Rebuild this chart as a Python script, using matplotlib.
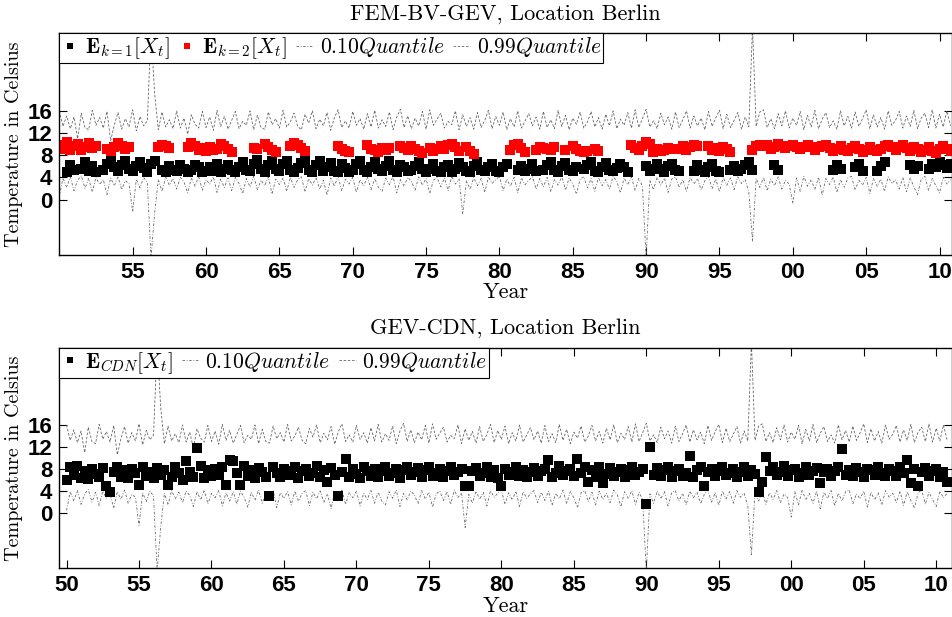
import numpy as np
import matplotlib
matplotlib.use("Agg")
import matplotlib.pyplot as plt

nan = np.nan

# quarterly time grid, 1950.00 ... 2010.75
years = 1950 + np.arange(244) / 4.0

# 0.99 quantile (same in both panels)
q99 = [
    16.0, 13.2, 15.1, 12.8, 14.9, 11.0, 15.6, 13.0,
    12.6, 16.1, 13.4, 14.8, 12.9, 15.9, 10.6, 13.5,
    15.7, 12.7, 14.6, 13.1, 16.2, 12.4, 15.0, 13.3,
    14.2, 30.5, 19.0, 12.6, 15.8, 13.1, 14.4, 12.8,
    16.0, 12.9, 14.7, 11.8, 15.3, 13.6, 12.9, 15.9,
    13.0, 14.9, 12.5, 16.1, 13.2, 15.0, 12.7, 14.3,
    15.9, 12.8, 14.1, 13.4, 16.0, 12.6, 15.2, 13.0,
    12.7, 15.8, 13.5, 14.6, 12.9, 16.1, 13.1, 14.0,
    15.6, 13.2, 12.6, 15.4, 13.8, 16.0, 12.8, 14.5,
    13.3, 15.7, 12.5, 14.8, 16.2, 13.0, 14.2, 12.9,
    15.9, 13.4, 14.6, 12.7, 15.5, 13.1, 16.1, 12.9,
    14.4, 13.2, 15.8, 12.6, 14.9, 16.3, 13.0, 15.1,
    12.8, 14.7, 13.3, 15.9, 12.7, 16.2, 13.4, 14.5,
    15.6, 12.9, 14.1, 13.5, 16.0, 12.6, 15.3, 13.2,
    14.8, 12.7, 15.7, 13.0, 14.3, 16.1, 12.8, 15.0,
    13.4, 15.8, 12.6, 14.6, 13.1, 16.0, 12.9, 14.2,
    15.5, 13.3, 14.9, 12.7, 15.9, 13.0, 14.4, 12.8,
    16.1, 13.2, 15.2, 12.6, 14.7, 13.6, 15.8, 12.9,
    14.0, 15.9, 13.1, 14.8, 12.7, 15.4, 13.3, 16.0,
    12.8, 14.5, 13.4, 15.7, 12.9, 16.2, 13.0, 14.6,
    16.3, 13.1, 14.2, 12.8, 15.6, 13.5, 14.9, 12.7,
    15.8, 13.0, 14.4, 16.0, 12.9, 15.1, 13.3, 14.7,
    12.6, 15.9, 13.2, 14.8, 16.1, 12.8, 15.4, 13.0,
    14.3, 15.7, 12.7, 14.9, 13.1, 31.0, 13.2, 15.8,
    16.2, 13.0, 14.6, 12.8, 15.5, 13.3, 16.0, 12.9,
    14.7, 13.4, 15.9, 12.6, 15.2, 13.1, 16.1, 12.8,
    14.5, 15.7, 13.0, 14.2, 12.7, 16.0, 13.3, 15.0,
    12.9, 15.8, 13.2, 14.6, 16.2, 12.8, 15.3, 13.1,
    14.8, 12.7, 16.0, 13.4, 14.3, 15.9, 12.9, 15.1,
    13.2, 16.1, 12.8, 14.7, 15.6, 13.0, 16.2, 12.9,
    15.4, 13.1, 16.0, 13.3,
]

# 0.10 quantile (same in both panels)
q10 = [
    0.5, 3.9, 2.2, 4.1, 1.6, 3.5, 4.3, 2.0,
    3.8, 1.4, 4.0, 2.7, 3.6, 0.9, 3.9, 2.5,
    4.2, 1.8, 3.4, 2.9, -2.2, 3.7, 2.1, 4.0,
    3.1, -10.5, -2.4, 3.6, 1.5, 4.1, 2.6, 3.8,
    1.9, 4.0, 3.2, 1.2, 3.9, 2.4, 4.2, 1.7,
    3.6, 2.8, 4.1, 1.3, 3.7, 2.2, 3.9, 1.6,
    4.0, 2.9, 1.1, 3.8, 2.3, 4.2, 1.8, 3.5,
    2.5, 4.1, 1.0, 3.7, 2.7, 3.9, 1.5, 4.0,
    2.2, 3.6, 4.1, 1.4, 3.8, 2.6, 4.0, 1.9,
    3.5, 0.8, 3.9, 2.4, 4.2, 1.6, 3.7, 2.8,
    4.0, 1.3, 3.6, 2.5, 4.1, 1.8, 3.8, 2.2,
    1.5, 3.9, 2.7, 4.2, 1.2, 3.6, 2.4, 4.0,
    3.3, 1.7, 4.1, 2.6, 3.8, 1.1, 3.5, 4.0,
    2.3, 3.9, 1.6, 4.2, 2.8, 3.7, -2.6, 3.4,
    1.8, 4.0, 2.5, 3.8, 1.3, 4.1, 2.9, 3.6,
    4.2, 1.6, 3.7, 2.4, 4.0, 1.2, 3.9, 2.7,
    3.5, 4.1, 1.9, 3.8, 2.3, 4.0, 1.4, 3.6,
    2.6, 4.2, 1.7, 3.9, 2.8, 1.0, 3.7, 4.1,
    2.1, 3.8, 1.5, 4.0, 2.5, 3.6, 1.9, 4.2,
    3.3, 1.2, 3.9, 2.7, 4.1, 1.6, 3.8, 2.4,
    -10.5, 3.5, 1.8, 4.0, 2.6, 3.9, 1.3, 3.7,
    4.1, 2.2, 3.6, 1.5, 4.0, 2.8, 3.8, 1.7,
    3.4, 4.2, 2.0, 3.7, 1.4, 4.0, 2.6, 3.9,
    1.8, 4.1, 2.9, 3.6, 1.3, -7.5, 3.8, 2.2,
    4.0, 1.6, 3.7, 2.5, 4.1, 1.9, 3.5, 2.8,
    -0.7, 3.9, 1.5, 4.2, 2.4, 3.6, 1.8, 4.0,
    0.8, 3.8, 2.7, 4.1, 1.3, 3.6, 2.2, 3.9,
    4.2, 1.7, 3.5, 2.6, 4.0, 1.1, 3.8, 2.4,
    3.7, 1.5, 4.1, 2.9, 3.6, 1.9, 4.0, 1.4,
    3.9, 2.3, 0.9, 3.7, 4.2, 1.6, 3.8, 2.5,
    1.2, 4.0, 2.8, 3.6,
]

# FEM-BV-GEV: expected value in state k=1 (nan when the state is not active)
fem_k1 = [
    nan, nan, 5.0, 6.2, 5.3, nan, 5.6, 6.8,
    5.2, 6.0, 5.0, nan, 5.4, 6.5, 7.1, 5.8,
    5.1, 6.3, 7.0, 5.5, 5.2, 6.1, 6.8, 5.7,
    5.0, 6.4, 7.0, nan, 5.3, 5.0, 6.0, 5.4,
    5.1, 6.2, 5.6, 5.0, 5.4, 6.3, 5.8, 4.9,
    5.2, 5.9, 5.1, 6.4, 5.0, 5.6, 6.2, 5.3,
    4.9, 5.8, 6.7, 5.4, 5.1, 6.5, 7.1, 5.6,
    5.0, 6.2, 7.0, 5.5, 5.2, 6.4, 6.9, 5.3,
    5.0, 5.7, 6.6, 7.0, 5.4, 5.0, 6.3, 6.9,
    5.2, 5.8, 6.6, 5.1, 4.9, 6.4, 5.7, 5.0,
    5.3, 6.5, 6.9, 5.4, 5.0, 5.9, 6.8, 5.5,
    5.1, 6.0, 6.9, 5.3, 5.0, 6.3, 5.8, 5.1,
    5.4, 6.1, 6.8, 5.6, 5.0, 5.6, 6.4, 5.2,
    4.9, 5.8, 6.2, 5.0, 5.5, 6.6, 5.9, 5.2,
    5.0, 6.1, 6.7, 5.3, 5.1, 5.9, 6.5, 5.2,
    5.0, 5.8, 6.4, nan, nan, 5.3, 6.0, 5.1,
    5.6, 6.5, 5.2, nan, 5.4, 6.3, 6.8, 5.3,
    5.0, 6.1, 6.6, 5.4, 5.1, 5.8, nan, 5.6,
    6.2, 6.8, 5.2, 5.0, 5.9, 6.6, 5.3, 5.1,
    5.7, 6.5, 5.9, 5.0, nan, nan, nan, nan,
    6.0, 5.2, 5.5, 6.4, 5.6, 5.0, 6.1, 6.5,
    5.4, 5.1, nan, nan, nan, 5.1, 6.2, 5.3,
    4.9, 5.8, 6.4, 5.2, 5.0, nan, nan, 5.3,
    6.0, 5.1, 5.5, 6.3, 6.8, 5.4, nan, nan,
    nan, nan, nan, 6.2, 5.3, nan, nan, nan,
    nan, nan, nan, nan, nan, nan, nan, nan,
    nan, nan, nan, 5.3, 6.2, 5.6, nan, nan,
    nan, 5.8, 6.4, 5.2, nan, nan, nan, 5.2,
    6.0, 6.7, nan, nan, nan, nan, nan, nan,
    6.3, 5.6, 6.0, nan, nan, 5.6, 6.4, 5.9,
    6.8, 6.2, 5.7, 6.5,
]

# FEM-BV-GEV: expected value in state k=2
fem_k2 = [
    9.8, 9.2, 10.3, 8.9, 9.6, 10.1, 9.0, 9.4,
    10.2, 9.3, 9.7, nan, nan, 9.2, 8.8, 9.5,
    10.2, 9.6, 9.1, 9.4, nan, nan, nan, nan,
    nan, nan, nan, 9.4, 9.9, 9.7, 9.3, nan,
    nan, nan, nan, 9.4, 10.2, 9.6, 8.9, 9.3,
    8.7, 9.5, 8.9, 9.2, 10.0, 9.6, 9.1, 8.5,
    nan, nan, nan, nan, nan, 9.3, 9.2, nan,
    10.0, 9.4, 8.9, 8.6, nan, nan, nan, 9.6,
    10.2, 9.8, 9.3, 8.8, nan, nan, nan, nan,
    nan, nan, nan, nan, 9.6, 9.2, 8.8, 8.5,
    nan, nan, nan, nan, 9.8, 9.2, 8.9, 8.6,
    9.3, 9.0, 9.3, nan, nan, 9.7, 9.3, 8.9,
    9.6, 9.1, 8.7, 8.4, nan, 9.3, 8.8, 9.1,
    9.6, 9.2, 9.8, 10.1, 9.4, 8.7, nan, 9.5,
    8.8, 8.3, nan, nan, nan, nan, nan, nan,
    nan, nan, nan, 9.0, 9.8, 10.0, 9.3, 8.6,
    nan, nan, 9.0, 9.4, 9.3, 9.1, 8.9, 9.4,
    nan, nan, 9.0, nan, 9.6, 9.2, 8.8, 8.5,
    8.7, nan, 9.2, 8.7, nan, nan, nan, nan,
    nan, nan, nan, nan, 9.9, 9.3, 9.0, 9.6,
    10.3, 10.0, 8.6, 9.2, 8.8, 9.0, 9.3, 9.1,
    nan, 9.1, 9.6, 9.0, 9.4, 9.9, 9.7, nan,
    nan, 9.6, 9.0, 9.3, 8.7, 9.5, 9.2, 8.5,
    nan, nan, nan, nan, nan, 9.0, 9.6, 9.9,
    9.6, 9.8, 9.2, 9.5, 10.0, 9.7, 9.3, 9.6,
    9.9, 9.4, 9.1, 9.5, 9.8, 9.4, 9.0, 9.4,
    9.7, 9.9, 9.3, 8.8, 9.2, 9.6, 9.0, 8.7,
    9.3, 9.7, 9.2, 8.6, 8.9, 9.4, 9.0, 8.7,
    9.1, 9.6, 9.9, 9.4, 8.9, 9.5, 9.8, 9.3,
    8.7, 9.4, 9.1, 8.6, 9.0, 9.5, 8.8, 8.4,
    9.1, 9.6, 9.2, 8.8,
]

# GEV-CDN expected value
cdn = [
    6.0, 8.3, 7.0, 8.5, 6.4, 7.6, 6.2, 8.0,
    7.1, 6.5, 8.2, 5.0, 3.9, 7.4, 8.4, 6.6,
    7.8, 6.3, 8.1, 7.2, 5.1, 8.3, 6.8, 7.5,
    6.4, 8.2, 7.0, 7.9, 5.1, 6.6, 8.4, 7.3,
    6.1, 9.5, 7.4, 6.5, 11.8, 8.6, 6.4, 7.8,
    6.7, 8.1, 7.0, 8.4, 5.1, 9.6, 9.4, 7.3,
    5.1, 8.6, 6.8, 7.9, 6.3, 8.2, 7.5, 6.6,
    3.1, 8.3, 7.2, 6.5, 8.0, 6.9, 7.7, 8.4,
    6.4, 7.6, 8.1, 6.7, 7.3, 8.5, 6.5, 7.9,
    5.7, 8.2, 6.9, 3.1, 7.4, 9.8, 6.6, 8.0,
    7.1, 6.4, 8.3, 7.6, 6.8, 8.1, 6.5, 7.7,
    8.4, 6.7, 7.3, 8.0, 6.4, 7.8, 8.3, 6.9,
    7.5, 8.2, 6.6, 7.9, 8.4, 6.8, 7.2, 8.1,
    6.5, 7.7, 8.3, 6.9, 7.4, 8.0, 5.0, 5.0,
    7.6, 8.2, 6.7, 7.3, 8.4, 6.6, 7.9, 6.4,
    5.0, 8.1, 6.9, 7.5, 8.3, 6.7, 7.8, 6.5,
    7.4, 8.2, 6.8, 7.7, 8.0, 9.6, 6.6, 7.3,
    8.5, 6.9, 7.6, 8.1, 6.7, 9.8, 7.2, 8.3,
    5.7, 7.8, 6.5, 8.4, 5.4, 7.1, 8.2, 6.8,
    7.5, 8.0, 6.6, 7.9, 8.3, 6.9, 7.4, 8.1,
    1.7, 12.0, 7.0, 8.2, 6.7, 7.8, 8.4, 6.5,
    7.6, 8.0, 6.8, 7.3, 10.4, 6.6, 7.9, 8.3,
    4.9, 7.4, 8.1, 6.7, 7.7, 8.4, 6.9, 7.2,
    8.0, 6.6, 7.5, 8.3, 6.8, 7.9, 7.1, 3.8,
    5.7, 10.1, 7.6, 8.3, 6.9, 7.4, 8.5, 6.7,
    7.8, 8.1, 6.6, 7.3, 8.4, 6.9, 7.7, 8.2,
    5.5, 7.5, 8.0, 6.8, 7.6, 8.3, 11.7, 7.0,
    7.9, 6.7, 8.2, 7.4, 6.6, 8.1, 7.8, 6.9,
    8.3, 7.2, 6.7, 8.0, 7.6, 6.8, 8.4, 7.3,
    9.6, 5.5, 8.1, 4.9, 7.5, 8.2, 6.8, 7.7,
    8.0, 6.6, 7.4, 5.7,
]

y_ticks = [0, 4, 8, 12, 16]
top_xticks = [1955, 1960, 1965, 1970, 1975, 1980, 1985, 1990, 1995, 2000, 2005, 2010]
top_xlabels = ['55', '60', '65', '70', '75', '80', '85', '90', '95', '00', '05', '10']
bot_xticks = [1950] + top_xticks
bot_xlabels = ['50'] + top_xlabels

plt.rcParams['mathtext.fontset'] = 'cm'
plt.rcParams['font.family'] = ['Liberation Sans', 'DejaVu Sans']

qcol = '#666666'
serif = 'cmr10'
msize = 6.8

fig = plt.figure(figsize=(9.52, 6.17), dpi=100)
ax1 = fig.add_axes([0.0623, 0.5867, 0.9374, 0.3593])
ax2 = fig.add_axes([0.0623, 0.0789, 0.9374, 0.3575])


def add_quantiles(ax):
    a, = ax.plot(years, q10, color=qcol, lw=0.6, dashes=(3, 2, 1, 2))
    b, = ax.plot(years, q99, color=qcol, lw=0.6, dashes=(3, 2))
    return a, b


def style(ax, xlim, ticks, labels, title):
    ax.set_xlim(xlim)
    ax.set_ylim(-10, 30)
    ax.set_yticks(y_ticks)
    ax.set_xticks(ticks)
    ax.set_xticklabels(labels)
    ax.tick_params(direction='in', top=True, right=True, length=6, width=0.8,
                   labelsize=16, pad=5)
    for lab in ax.get_xticklabels() + ax.get_yticklabels():
        lab.set_fontweight('bold')
    for s in ax.spines.values():
        s.set_linewidth(1.0)
    ax.set_title(title, family=serif, fontsize=16, pad=10)
    ax.set_xlabel('Year', family=serif, fontsize=16, labelpad=0)
    ax.set_ylabel('Temperature in Celsius', family=serif, fontsize=14.5, labelpad=3)


def add_legend(ax, handles, labels):
    leg = ax.legend(handles, labels, loc='upper left', bbox_to_anchor=(0, 1),
                    borderaxespad=0, ncol=len(handles), fontsize=15.5,
                    fancybox=False, edgecolor='k', framealpha=1,
                    handlelength=0.8, handletextpad=0.3, columnspacing=0.4,
                    borderpad=0.1, numpoints=1, markerscale=0.7)
    leg.get_frame().set_linewidth(0.8)


# top panel: FEM-BV-GEV
l10, l99 = add_quantiles(ax1)
m1, = ax1.plot(years, fem_k1, ls='none', marker='s', ms=msize, mew=0, color='k')
m2, = ax1.plot(years, fem_k2, ls='none', marker='s', ms=msize, mew=0, color='#ff0000')
style(ax1, (1950, 2010.83), top_xticks, top_xlabels, 'FEM-BV-GEV, Location Berlin')
add_legend(ax1, [m1, m2, l10, l99],
           [r'$\mathbf{E}_{k=1}[X_t]$', r'$\mathbf{E}_{k=2}[X_t]$',
            r'$0.10Quantile$', r'$0.99Quantile$'])

# bottom panel: GEV-CDN
l10b, l99b = add_quantiles(ax2)
m3, = ax2.plot(years, cdn, ls='none', marker='s', ms=msize, mew=0, color='k')
style(ax2, (1949.5, 2011.07), bot_xticks, bot_xlabels, 'GEV-CDN, Location Berlin')
add_legend(ax2, [m3, l10b, l99b],
           [r'$\mathbf{E}_{CDN}[X_t]$', r'$0.10Quantile$', r'$0.99Quantile$'])

fig.savefig('out.png', dpi=100)
